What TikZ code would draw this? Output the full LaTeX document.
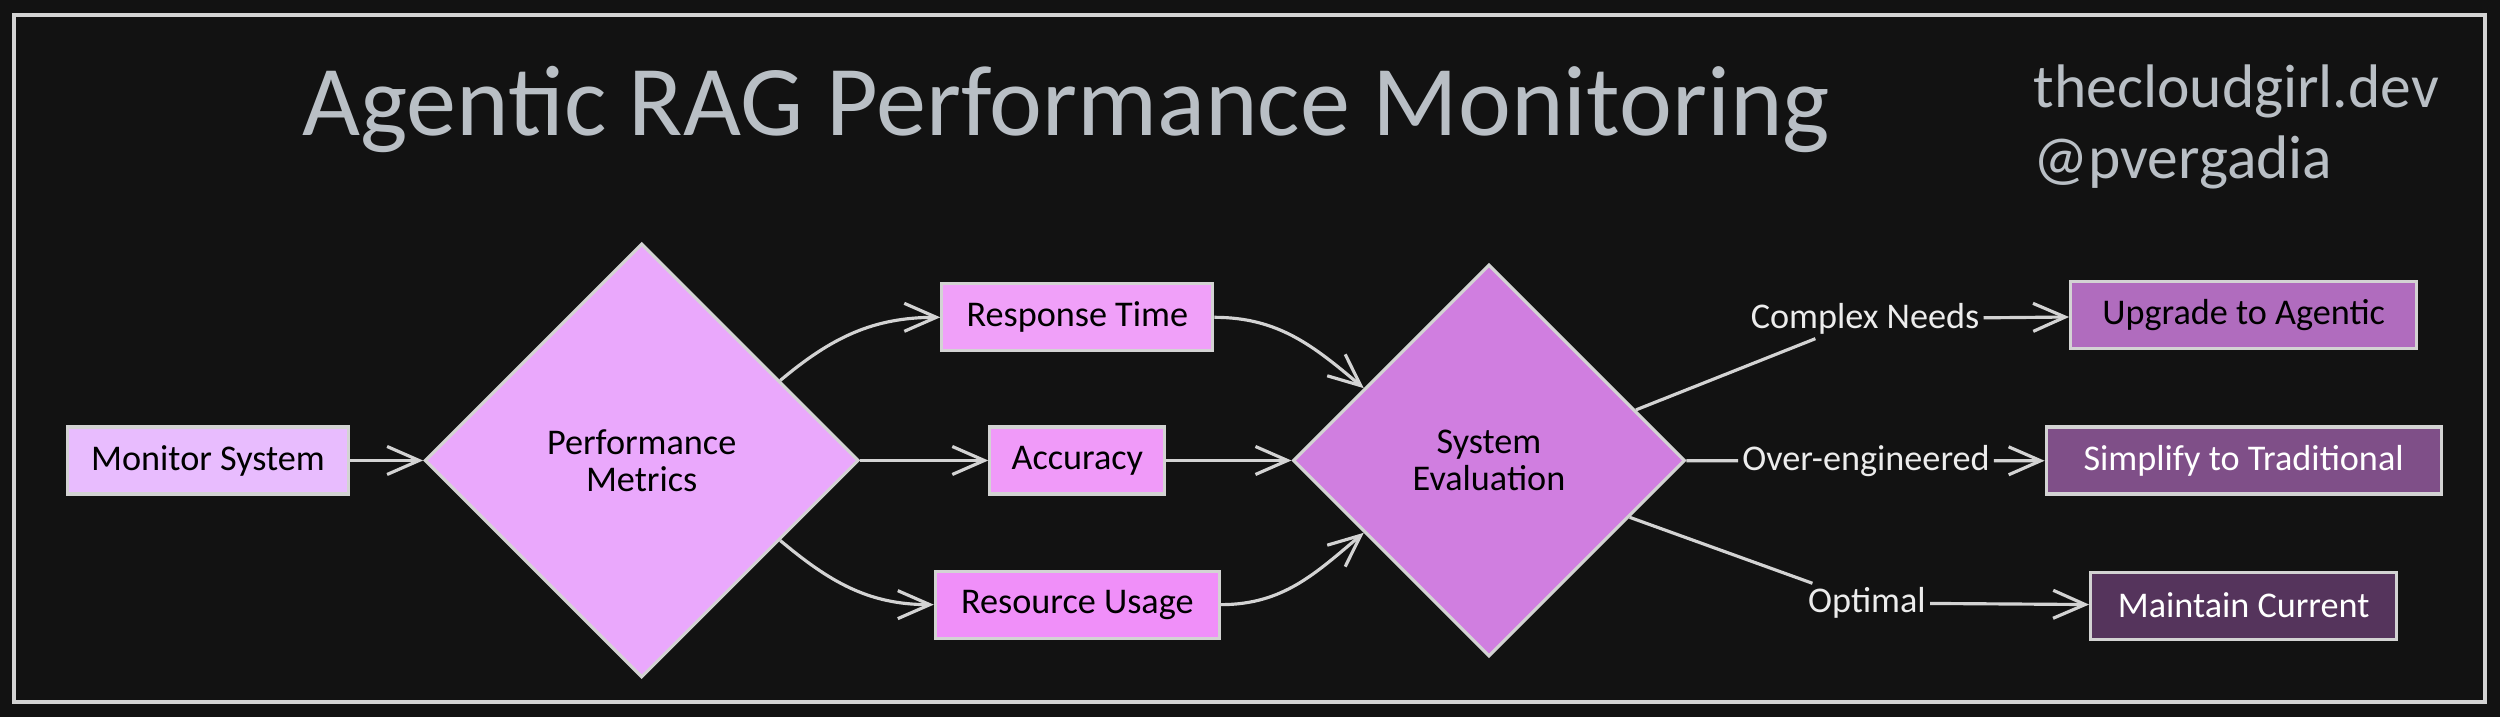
\documentclass[tikz,border=0pt]{standalone}
\usepackage{fontspec}
\setmainfont{Carlito}
\usepackage{xcolor}
\usepackage{tikz}
\usetikzlibrary{arrows.meta,positioning,shapes.geometric}
\definecolor{bgc}{HTML}{121212}
\definecolor{linec}{HTML}{D3D3D3}
\definecolor{headc}{HTML}{B9BFC5}
\definecolor{labc}{HTML}{ECECEC}
\definecolor{monc}{HTML}{E8BCFE}
\definecolor{perfc}{HTML}{EAA8FC}
\definecolor{rtc}{HTML}{F0A0F9}
\definecolor{accc}{HTML}{F09AF9}
\definecolor{ruc}{HTML}{F08FF9}
\definecolor{evalc}{HTML}{D07EE0}
\definecolor{upgc}{HTML}{B06CBE}
\definecolor{simpc}{HTML}{7F4F88}
\definecolor{mainc}{HTML}{55345C}
\tikzset{
  blk/.style={draw=linec, line width=0.9pt, minimum height=6.7mm, inner sep=0pt, text=black, font=\fontsize{10.3}{12}\selectfont},
  dia/.style={draw=linec, line width=0.9pt, diamond, inner sep=0pt, align=center, text=black, font=\fontsize{10.3}{10.5}\selectfont},
  lbl/.style={inner sep=1pt, text=labc, font=\fontsize{10.3}{12}\selectfont},
  ln/.style={draw=linec, line width=0.9pt},
  fl/.style={ln, -{Straight Barb[length=3.2mm,width=2.8mm]}},
}
\begin{document}
\begin{tikzpicture}[node distance=7.5mm and 12.8mm]
\fill[bgc] (0,0) rectangle (25,7.17);
\useasboundingbox (0,0) rectangle (25,7.17);
\draw[linec, line width=1pt] (0.14,0.15) rectangle (24.85,7.02);
\node[text=headc, font=\fontsize{28.5}{31}\selectfont] (ttl) at (10.66,6.07) {Agentic RAG Performance Monitoring};
\node[text=headc, font=\fontsize{17.5}{20}\selectfont, align=left, anchor=west, inner sep=0pt] (hdl) at (20.33,5.90) {thecloudgirl.dev\\@pvergadia};
\node[blk, fill=monc, minimum width=2.81cm] (mon) at (2.08,2.565) {Monitor System};
\node[dia, fill=perfc, minimum width=4.34cm, minimum height=4.34cm, right=7.3mm of mon] (perf) {Performance\\Metrics};
\node[blk, fill=accc, minimum width=1.75cm, right=of perf] (acc) {Accuracy};
\node[blk, fill=rtc, minimum width=2.71cm, above=7.3mm of acc] (rt) {Response Time};
\node[blk, fill=ruc, minimum width=2.84cm, below=7.4mm of acc] (ru) {Resource Usage};
\node[dia, fill=evalc, minimum width=3.92cm, minimum height=3.92cm, right=12.5mm of acc] (eval) {System\\Evaluation};
\node[blk, fill=simpc, text=white, minimum width=3.95cm, right=35.8mm of eval] (simp) {Simplify to Traditional};
\node[blk, fill=upgc, minimum width=3.46cm, above=of simp] (upg) {Upgrade to Agentic};
\node[blk, fill=mainc, text=white, minimum width=3.06cm, below=of simp] (main) {Maintain Current};
\node[lbl] (cn) at (18.65,3.98) {Complex Needs};
\node[lbl] (oe) at (18.66,2.56) {Over-engineered};
\node[lbl] (opt) at (18.67,1.14) {Optimal};
\draw[fl] (mon) -- (perf);
\draw[fl] (perf.30) to[out=40,in=180] (rt.west);
\draw[fl] (perf) -- (acc);
\draw[fl] (perf.-30) to[out=-40,in=180] (ru.west);
\draw[fl] (rt.east) to[out=0,in=140] (eval.150);
\draw[fl] (acc) -- (eval);
\draw[fl] (ru.east) to[out=0,in=-140] (eval.-150);
\draw[ln] (eval.19) -- (cn);
\draw[fl] (cn) -- (upg);
\draw[ln] (eval) -- (oe);
\draw[fl] (oe) -- (simp);
\draw[ln] (eval.-22) -- (opt);
\draw[fl] (opt) -- (main);
\end{tikzpicture}
\end{document}
